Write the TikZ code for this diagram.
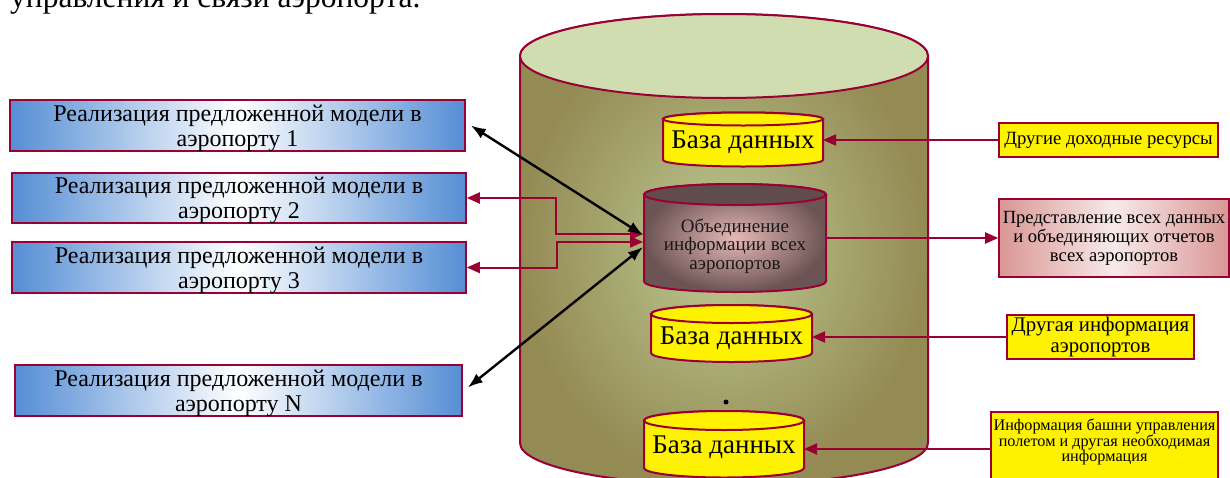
\documentclass[tikz,border=0pt]{standalone}
\usepackage{fontspec}
\setmainfont{Liberation Serif}
\usetikzlibrary{arrows.meta,calc}
\definecolor{dred}{RGB}{153,0,51}
\definecolor{olivedk}{RGB}{148,138,84}
\definecolor{olivelt}{RGB}{190,202,146}
\definecolor{topgreen}{RGB}{207,221,176}
\definecolor{bluebox}{RGB}{85,142,213}
\definecolor{pinkbox}{RGB}{217,150,148}
\definecolor{mauvedk}{RGB}{108,84,84}
\definecolor{mauvelt}{RGB}{230,185,184}
\newcommand\drawcyl[7]{%
  \path[#6] ({#1-#4},#2) -- ({#1-#4},#3)
    arc[start angle=180,end angle=0,x radius=#4,y radius=#5]
    -- ({#1+#4},#2)
    arc[start angle=0,end angle=-180,x radius=#4,y radius=#5] -- cycle;
  \path[#7] (#1,#2) ellipse[x radius=#4,y radius=#5];}
\begin{document}
\begin{tikzpicture}[x=1pt,y=-1pt,
  leftbox/.style={draw=dred,line width=1.6pt,left color=bluebox,right color=bluebox,middle color=white,
    inner sep=0pt,align=center,text depth=0pt,font=\fontsize{24}{25}\selectfont},
  ybox/.style={draw=dred,line width=1.6pt,fill=yellow,inner sep=0pt,align=center},
  ghost/.style={inner sep=0pt,outer sep=0pt},
  dbtext/.style={inner sep=0pt,font=\fontsize{27}{28}\selectfont},
  redarr/.style={draw=dred,line width=2pt,-{Triangle[length=13pt,width=11pt]}},
  redboth/.style={draw=dred,line width=2pt,{Triangle[length=13pt,width=11pt]}-{Triangle[length=13pt,width=11pt]}},
  blkboth/.style={draw=black,line width=2.4pt,{Latex[length=15pt,width=11pt]}-{Latex[length=15pt,width=11pt]}},
]
\useasboundingbox (0,0) rectangle (1230,477);
\clip (0,0) rectangle (1230,477);
\fill[white] (0,0) rectangle (1230,477);

% header fragment
\node[anchor=base west,inner sep=0pt,font=\fontsize{31.5}{32}\selectfont] (hdr) at (10,7.5) {управления и связи аэропорта.};

% big cylinder
\drawcyl{724}{56}{443}{204}{42}{draw=dred,line width=2pt,inner color=olivelt,outer color=olivedk}{draw=dred,line width=2pt,fill=topgreen}

% small cylinders
\drawcyl{743}{119}{160}{80}{6.5}{draw=dred,line width=2pt,fill=yellow}{draw=dred,line width=2pt,fill=yellow}
\drawcyl{735}{194.5}{281.5}{91}{10.5}{draw=dred,line width=2pt,inner color=mauvelt,outer color=mauvedk}{draw=dred,line width=2pt,fill=mauvedk!90!black}
\drawcyl{731.5}{314}{353}{80.5}{9}{draw=dred,line width=2pt,fill=yellow}{draw=dred,line width=2pt,fill=yellow}
\drawcyl{724}{420.5}{468}{80}{9.5}{draw=dred,line width=2pt,fill=yellow}{draw=dred,line width=2pt,fill=yellow}

\node[ghost,minimum width=160pt,minimum height=41pt] (db1) at (743,139.5) {};
\node[ghost,minimum width=182pt,minimum height=87pt] (obj) at (735,238) {};
\node[ghost,minimum width=161pt,minimum height=39pt] (db2) at (731.5,333.5) {};
\node[ghost,minimum width=160pt,minimum height=47pt] (db3) at (724,444) {};

\node[dbtext] (db1t) at (743,142) {База данных};
\node[dbtext] (db2t) at (731.5,338) {База данных};
\node[dbtext] (db3t) at (724,447) {База данных};
\node[inner sep=0pt,align=center,text=black!90,font=\fontsize{19}{18.5}\selectfont] (objt) at (735,246)
  {Объединение\\информации всех\\аэропортов};

\fill (726,402) circle[radius=2.5];

% left boxes
\node[leftbox,minimum width=455pt,minimum height=51pt] (box1) at (237.5,125.5)
  {Реализация предложенной модели в\\аэропорту 1};
\node[leftbox,minimum width=454pt,minimum height=50pt] (box2) at (239,198)
  {Реализация предложенной модели в\\аэропорту 2};
\node[leftbox,minimum width=454pt,minimum height=51pt] (box3) at (239,267.5)
  {Реализация предложенной модели в\\аэропорту 3};
\node[leftbox,minimum width=447pt,minimum height=51pt] (boxN) at (238.5,390.5)
  {Реализация предложенной модели в\\аэропорту N};

% right boxes
\node[ybox,minimum width=219pt,minimum height=34pt,font=\fontsize{18.7}{20}\selectfont] (r1) at (1108.5,140)
  {Другие доходные ресурсы};
\node[draw=dred,line width=1.6pt,left color=pinkbox,right color=pinkbox,middle color=white!80!pinkbox,
  inner sep=0pt,align=center,minimum width=230pt,minimum height=78pt,font=\fontsize{18.6}{19}\selectfont] (r2) at (1114,238)
  {Представление всех данных\\и объединяющих отчетов\\всех аэропортов};
\node[ybox,minimum width=187pt,minimum height=44pt,font=\fontsize{20.8}{21}\selectfont] (r3) at (1100.5,337)
  {Другая информация\\аэропортов};
\node[ybox,minimum width=227pt,minimum height=74pt] (r4) at (1104.5,449) {};
\node[anchor=north,inner sep=0pt,align=center,font=\fontsize{16.2}{14.8}\selectfont] (r4t) at ($(r4.north)+(0,7.5)$)
  {Информация башни управления\\полетом и другая необходимая\\информация};

% connectors
\coordinate (j2) at (556,216);
\coordinate (j3) at (557,255);
\draw[redboth] ($(obj.west)+(-1,-4)$) -| (j2) |- (box2.east);
\draw[redboth] ($(obj.west)+(-1,4)$) -| (j3) |- (box3.east);
\draw[blkboth] ($(box1.east)+(5,0)$) -- ($(obj.west)+(-1,-3)$);
\draw[blkboth] ($(boxN.east)+(5,-3)$) -- ($(obj.west)+(-1,9)$);

\draw[redarr] (r1.west) -- (r1.west -| db1.east);
\draw[redarr] (obj.east) -- (r2.west);
\draw[redarr] (r3.west) -- (r3.west -| db2.east);
\draw[redarr] (r4.west) -- (r4.west -| db3.east);
\end{tikzpicture}
\end{document}
